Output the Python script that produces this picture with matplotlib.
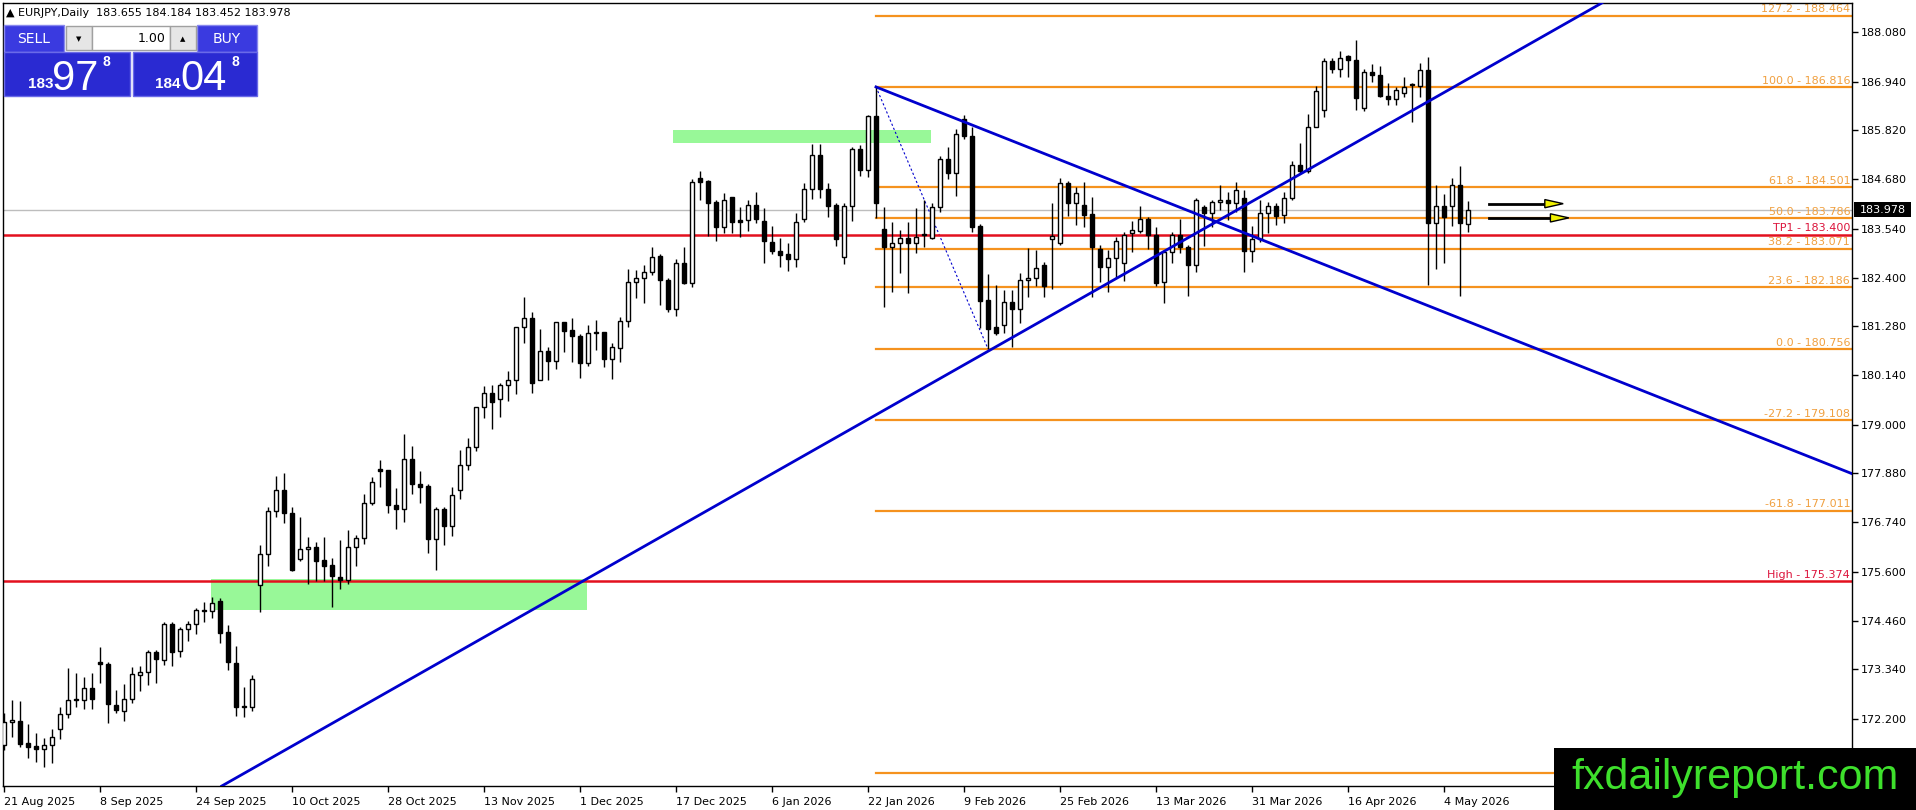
import matplotlib
matplotlib.use('Agg')
import matplotlib.pyplot as plt
import matplotlib.transforms as mtransforms
from matplotlib.patches import Rectangle, Polygon
import numpy as np

# EURJPY daily bars, 21 Aug 2025 .. 7 May 2026
opens = [171.58, 172.12, 172.15, 171.63, 171.57, 171.49, 171.60, 171.95, 172.30, 172.65,
         172.63, 172.90, 173.50, 173.47, 172.51, 172.37, 172.66, 173.20, 173.29, 173.75,
         173.56, 174.39, 173.77, 174.28, 174.39, 174.71, 174.68, 174.91, 174.20, 173.48,
         172.48, 172.46, 175.29, 176.00, 177.00, 177.49, 176.95, 175.90, 176.12, 176.17,
         175.87, 175.75, 175.47, 175.41, 176.16, 176.37, 177.20, 177.97, 177.95, 177.14,
         177.06, 178.20, 177.62, 177.58, 176.36, 177.05, 176.66, 177.48, 178.06, 178.48,
         179.40, 179.73, 179.59, 179.91, 180.03, 181.25, 181.46, 180.04, 180.71, 180.48,
         181.37, 181.19, 181.05, 180.42, 181.14, 181.14, 180.53, 180.77, 181.40, 182.31,
         182.39, 182.54, 182.90, 182.36, 181.67, 182.74, 182.29, 184.72, 184.64, 184.15,
         183.58, 184.26, 183.74, 183.74, 184.08, 183.71, 183.22, 183.03, 182.94, 182.83,
         183.75, 184.45, 185.23, 184.45, 184.08, 182.87, 184.05, 185.37, 184.89, 186.14,
         183.54, 183.12, 183.20, 183.31, 183.20, 183.38, 183.32, 184.03, 185.15, 184.83,
         186.07, 185.68, 183.60, 181.88, 181.25, 181.30, 181.84, 181.67, 182.36, 182.40,
         182.70, 183.30, 183.20, 184.60, 184.12, 184.08, 183.88, 183.07, 182.64, 182.85,
         182.75, 183.43, 183.49, 183.75, 183.39, 182.31, 183.00, 183.39, 183.12, 182.70,
         184.03, 183.91, 184.15, 184.19, 184.14, 184.24, 183.03, 183.29, 183.91, 184.05,
         183.85, 184.24, 185.01, 184.86, 185.90, 186.28, 187.42, 187.22, 187.53, 187.44,
         186.34, 187.15, 187.09, 186.61, 186.54, 186.68, 186.85, 186.84, 187.21, 183.66,
         184.05, 184.05, 184.55, 183.655]
highs = [172.32, 172.63, 172.61, 172.07, 171.86, 171.76, 171.95, 172.48, 173.36, 173.26,
         173.17, 173.25, 173.86, 173.50, 172.86, 173.00, 173.40, 173.42, 173.79, 173.79,
         174.44, 174.44, 174.33, 174.47, 174.75, 174.89, 175.02, 174.98, 174.37, 173.88,
         172.93, 173.20, 176.21, 177.09, 177.81, 177.88, 177.09, 176.86, 176.41, 176.29,
         176.41, 175.92, 176.33, 176.57, 176.45, 177.40, 177.78, 178.18, 177.96, 177.53,
         178.79, 178.51, 177.93, 177.64, 177.09, 177.09, 177.55, 178.41, 178.70, 179.40,
         179.90, 179.92, 179.97, 180.24, 181.27, 181.96, 181.60, 181.21, 180.81, 181.38,
         181.37, 181.46, 181.10, 181.31, 181.42, 181.14, 180.88, 181.50, 182.60, 182.58,
         182.70, 183.12, 182.95, 182.40, 182.83, 183.12, 184.69, 184.88, 184.66, 184.21,
         184.37, 184.28, 184.03, 184.20, 184.39, 184.02, 183.60, 183.33, 183.20, 183.89,
         184.60, 185.49, 185.49, 184.59, 184.12, 184.12, 185.43, 185.47, 186.17, 186.816,
         184.03, 183.70, 183.51, 183.68, 184.01, 184.20, 184.12, 185.22, 185.43, 185.84,
         186.17, 185.88, 183.64, 182.49, 182.23, 182.12, 182.12, 182.50, 183.08, 183.04,
         182.77, 184.12, 184.72, 184.65, 184.49, 184.62, 184.28, 183.16, 183.04, 183.35,
         183.46, 183.72, 184.05, 183.81, 183.58, 183.04, 183.47, 183.77, 183.16, 184.24,
         184.08, 184.20, 184.55, 184.39, 184.62, 184.43, 183.60, 184.20, 184.16, 184.14,
         184.39, 185.11, 185.51, 186.19, 186.84, 187.48, 187.48, 187.65, 187.55, 187.90,
         187.22, 187.34, 187.30, 186.90, 186.82, 187.04, 186.90, 187.38, 187.50, 184.55,
         184.35, 184.70, 184.99, 184.184]
lows = [171.48, 171.78, 171.54, 171.28, 171.20, 171.07, 171.18, 171.74, 172.22, 172.46,
        172.42, 172.43, 173.02, 172.09, 172.32, 172.15, 172.57, 172.85, 172.97, 173.03,
        173.44, 173.42, 173.63, 174.00, 174.16, 174.44, 174.53, 173.94, 173.33, 172.25,
        172.23, 172.37, 174.67, 175.74, 176.86, 176.72, 175.62, 175.85, 175.31, 175.38,
        175.39, 174.78, 175.19, 175.31, 175.72, 176.24, 177.14, 177.57, 176.95, 176.58,
        176.76, 177.40, 177.18, 176.04, 175.65, 176.22, 176.43, 177.28, 177.95, 178.39,
        179.16, 178.90, 179.19, 179.56, 179.71, 180.90, 179.73, 180.03, 180.04, 180.28,
        180.69, 180.46, 180.09, 180.37, 180.74, 180.34, 180.05, 180.45, 181.27, 181.94,
        181.82, 182.47, 181.77, 181.60, 181.52, 182.25, 182.19, 184.19, 183.37, 183.24,
        183.44, 183.44, 183.35, 183.49, 183.66, 182.75, 182.95, 182.66, 182.56, 182.66,
        183.68, 184.22, 184.24, 183.81, 183.14, 182.73, 183.72, 184.76, 184.74, 183.78,
        181.73, 182.06, 182.52, 182.04, 182.98, 183.12, 183.30, 183.93, 184.68, 184.29,
        185.62, 183.45, 181.23, 180.756, 181.08, 181.13, 180.81, 181.35, 181.96, 182.20,
        181.95, 182.14, 183.16, 183.82, 183.62, 183.58, 181.96, 182.31, 182.06, 182.39,
        182.33, 183.00, 183.43, 183.06, 182.21, 181.81, 182.75, 182.97, 181.98, 182.54,
        183.14, 183.58, 183.97, 183.74, 183.93, 182.54, 182.77, 183.23, 183.43, 183.62,
        183.66, 184.20, 184.82, 184.82, 185.88, 186.11, 187.13, 187.05, 187.05, 186.28,
        186.27, 186.94, 186.59, 186.40, 186.40, 186.59, 186.01, 186.59, 182.23, 182.60,
        182.75, 183.60, 181.99, 183.452]
closes = [172.12, 172.17, 171.61, 171.55, 171.49, 171.60, 171.77, 172.30, 172.63, 172.62,
          172.90, 172.65, 173.46, 172.53, 172.40, 172.66, 173.23, 173.29, 173.75, 173.57,
          174.39, 173.75, 174.28, 174.39, 174.71, 174.68, 174.87, 174.19, 173.50, 172.46,
          172.46, 173.11, 176.00, 177.00, 177.50, 176.95, 175.64, 176.12, 176.17, 175.85,
          175.74, 175.51, 175.41, 176.16, 176.37, 177.20, 177.67, 177.94, 177.14, 177.06,
          178.20, 177.64, 177.57, 176.36, 177.05, 176.66, 177.37, 178.06, 178.48, 179.40,
          179.73, 179.52, 179.91, 180.03, 181.25, 181.46, 179.97, 180.71, 180.48, 181.37,
          181.18, 181.06, 180.42, 181.12, 181.12, 180.53, 180.79, 181.40, 182.31, 182.40,
          182.54, 182.87, 182.35, 181.67, 182.74, 182.29, 184.61, 184.62, 184.14, 183.58,
          184.21, 183.70, 183.70, 184.08, 183.75, 183.24, 183.03, 182.93, 182.83, 183.68,
          184.45, 185.23, 184.45, 184.06, 183.29, 184.06, 185.37, 184.89, 186.14, 184.14,
          183.12, 183.20, 183.31, 183.20, 183.35, 183.42, 184.03, 185.15, 184.83, 185.73,
          185.67, 183.58, 181.87, 181.22, 181.13, 181.84, 181.67, 182.35, 182.40, 182.62,
          182.21, 183.36, 184.60, 184.12, 184.36, 183.85, 183.12, 182.64, 182.85, 183.25,
          183.40, 183.50, 183.75, 183.39, 182.29, 183.00, 183.39, 183.12, 182.70, 184.20,
          183.91, 184.15, 184.20, 184.14, 184.43, 183.03, 183.29, 183.91, 184.05, 183.83,
          184.24, 185.01, 184.86, 185.90, 186.72, 187.42, 187.22, 187.49, 187.44, 186.57,
          187.15, 187.09, 186.61, 186.54, 186.74, 186.81, 186.87, 187.21, 183.66, 184.05,
          183.81, 184.55, 183.66, 183.978]

date_labels = ['21 Aug 2025', '8 Sep 2025', '24 Sep 2025', '10 Oct 2025', '28 Oct 2025',
               '13 Nov 2025', '1 Dec 2025', '17 Dec 2025', '6 Jan 2026', '22 Jan 2026',
               '9 Feb 2026', '25 Feb 2026', '13 Mar 2026', '31 Mar 2026', '16 Apr 2026',
               '4 May 2026']
label_step = 12

price_ticks = [188.080, 186.940, 185.820, 184.680, 183.540, 182.400, 181.280, 180.140,
               179.000, 177.880, 176.740, 175.600, 174.460, 173.340, 172.200]

# fibonacci retracement drawn from the Jan high to the Feb low
fib_high = 186.816
fib_low = 180.756
fib_levels = [127.2, 100.0, 61.8, 50.0, 38.2, 23.6, 0.0, -27.2, -61.8, -161.8]
fib_hidden = [-161.8]   # its label sits under the watermark
fib_high_bar = 109
fib_low_bar = 123

red_levels = [183.400, 175.374]
red_names = ['TP1', 'High']
last_price = 183.978

# trend lines: two anchor points each (bar, price)
rise_line = [(123, 180.70), (175.75, 186.24)]
fall_line = [(109, 186.816), (175.75, 181.92)]

# green zones: bar from, bar to, price low, price high
zones = [(25.9, 72.9, 174.71, 175.43), (83.6, 115.9, 185.52, 185.83)]

# arrow objects: bar start, bar tip, price
arrows = [(185.6, 194.9, 184.115), (185.6, 195.6, 183.786)]

W, H = 1916, 810
fig = plt.figure(figsize=(W / 100, H / 100), dpi=100)
fig.patch.set_facecolor('white')
ax = fig.add_axes([3 / W, 24 / H, 1849 / W, 783 / H])
ax.set_xlim(-0.125, 231.0)
ax.set_ylim(170.641, 188.758)

orange = '#f5921e'
red = '#e3101e'
blue = '#0000cd'

# zones behind everything
for x0, x1, p0, p1 in zones:
    ax.add_patch(Rectangle((x0, p0), x1 - x0, p1 - p0, facecolor='#98f898',
                           edgecolor='none', zorder=1))

# current price line
ax.axhline(last_price, color='#bdbdbd', lw=1, zorder=1.5)

# fib levels
rng = fib_high - fib_low
right_edge = ax.get_xlim()[1]
trans = mtransforms.blended_transform_factory(ax.transAxes, ax.transData)
for lvl in fib_levels:
    p = fib_low + lvl / 100 * rng
    ax.plot([fib_high_bar, right_edge], [p, p], color=orange, lw=1.6, zorder=2)
    if lvl in fib_hidden:
        continue
    ax.text(0.999, p + 0.03, f'{lvl:.1f} - {p:.3f}', transform=trans, ha='right',
            va='bottom', fontsize=8, color='#f0a040', zorder=2)
ax.plot([fib_high_bar, fib_low_bar], [fib_high, fib_low], color=blue, lw=0.8,
        ls=(0, (2, 2)), zorder=2)

for p, name in zip(red_levels, red_names):
    ax.axhline(p, color=red, lw=1.8, zorder=2.5)
    ax.text(0.999, p + 0.03, f'{name} - {p:.3f}', transform=trans, ha='right',
            va='bottom', fontsize=8, color='#dc143c', zorder=2.5)

# candles
o = np.array(opens)
hi = np.array(highs)
lo = np.array(lows)
c = np.array(closes)
x = np.arange(len(o))
up = c >= o
body_low = np.minimum(o, c)
body_h = np.maximum(np.abs(c - o), 0.03)
ax.vlines(x, lo, hi, color='black', lw=1, zorder=4)
ax.bar(x[up], body_h[up], 0.6, bottom=body_low[up], facecolor='white',
       edgecolor='black', lw=1, zorder=5)
ax.bar(x[~up], body_h[~up], 0.6, bottom=body_low[~up], facecolor='black',
       edgecolor='black', lw=1, zorder=5)

# trend lines
ax.axline(rise_line[0], rise_line[1], color=blue, lw=2, zorder=6)
(fx0, fy0), (fx1, fy1) = fall_line
slope = (fy1 - fy0) / (fx1 - fx0)
ax.plot([fx0, right_edge], [fy0, fy0 + slope * (right_edge - fx0)], color=blue, lw=2,
        zorder=6)

# arrows
for b0, b1, p in arrows:
    ax.plot([b0, b1 - 2.2], [p, p], color='black', lw=2, zorder=7)
    ax.add_patch(Polygon([(b1 - 2.3, p + 0.095), (b1 - 2.3, p - 0.095), (b1, p)],
                         closed=True, facecolor='#f0f000', edgecolor='black', lw=1,
                         zorder=7))

# axes styling
for s in ax.spines.values():
    s.set_color('black')
    s.set_linewidth(1)
ax.yaxis.tick_right()
ax.set_yticks(price_ticks)
ax.set_yticklabels([f'{v:.3f}' for v in price_ticks])
ax.tick_params(axis='y', length=4, width=1, pad=2, labelsize=8, colors='black')
ax.set_xticks(range(0, label_step * len(date_labels), label_step))
ax.set_xticklabels(date_labels, ha='left')
ax.tick_params(axis='x', length=4, width=1, pad=4, labelsize=8, colors='black')

# last price tag on the axis
ax.add_patch(Rectangle((1.001, last_price - 0.18), 0.031, 0.36, transform=trans,
                       facecolor='black', edgecolor='none', clip_on=False, zorder=8))
ax.text(1.004, last_price, f'{last_price:.3f}', transform=trans, ha='left', va='center',
        fontsize=8, color='white', zorder=9, clip_on=False)

# overlay in pixel coordinates for the trade panel and the watermark
ov = fig.add_axes([0, 0, 1, 1], zorder=10)
ov.set_xlim(0, W)
ov.set_ylim(H, 0)
ov.axis('off')
ov.patch.set_alpha(0)

ov.text(6, 13, '\u25b2 EURJPY,Daily  183.655 184.184 183.452 183.978', fontsize=8,
        va='center', ha='left', color='black')

panel_blue = '#2a2ad2'
ov.add_patch(Rectangle((4, 25), 60, 27, facecolor='#3a3ae0', edgecolor='#8888ee', lw=1))
ov.add_patch(Rectangle((197, 25), 60, 27, facecolor='#3a3ae0', edgecolor='#8888ee', lw=1))
ov.add_patch(Rectangle((66, 26), 26, 24, facecolor='#e6e6e6', edgecolor='#a0a0a0', lw=1))
ov.add_patch(Rectangle((92, 26), 78, 24, facecolor='white', edgecolor='#a0a0a0', lw=1))
ov.add_patch(Rectangle((170, 26), 26, 24, facecolor='#e6e6e6', edgecolor='#a0a0a0', lw=1))
ov.add_patch(Rectangle((4, 52), 126, 44, facecolor=panel_blue, edgecolor='#6a6ae8', lw=1))
ov.add_patch(Rectangle((133, 52), 124, 44, facecolor=panel_blue, edgecolor='#6a6ae8', lw=1))
ov.text(34, 39, 'SELL', color='white', fontsize=10, ha='center', va='center')
ov.text(227, 39, 'BUY', color='white', fontsize=10, ha='center', va='center')
ov.text(79, 39, '\u25bc', color='black', fontsize=5, ha='center', va='center')
ov.text(183, 39, '\u25b2', color='black', fontsize=5, ha='center', va='center')
ov.text(166, 39, '1.00', color='black', fontsize=9, ha='right', va='center')
ov.text(28, 88, '183', color='white', fontsize=11, fontweight='bold', ha='left',
        va='baseline', family='Liberation Sans')
ov.text(52, 90, '97', color='white', fontsize=30, ha='left', va='baseline',
        family='Liberation Sans')
ov.text(103, 66, '8', color='white', fontsize=10, fontweight='bold', ha='left',
        va='baseline', family='Liberation Sans')
ov.text(155, 88, '184', color='white', fontsize=11, fontweight='bold', ha='left',
        va='baseline', family='Liberation Sans')
ov.text(180, 90, '04', color='white', fontsize=30, ha='left', va='baseline',
        family='Liberation Sans')
ov.text(232, 66, '8', color='white', fontsize=10, fontweight='bold', ha='left',
        va='baseline', family='Liberation Sans')

ov.add_patch(Rectangle((1554, 748), 362, 62, facecolor='black', edgecolor='none'))
ov.text(1735, 778, 'fxdailyreport.com', color='#3ee02c', fontsize=31, ha='center',
        va='center', family='Liberation Sans')

fig.savefig('out.png', dpi=100)
